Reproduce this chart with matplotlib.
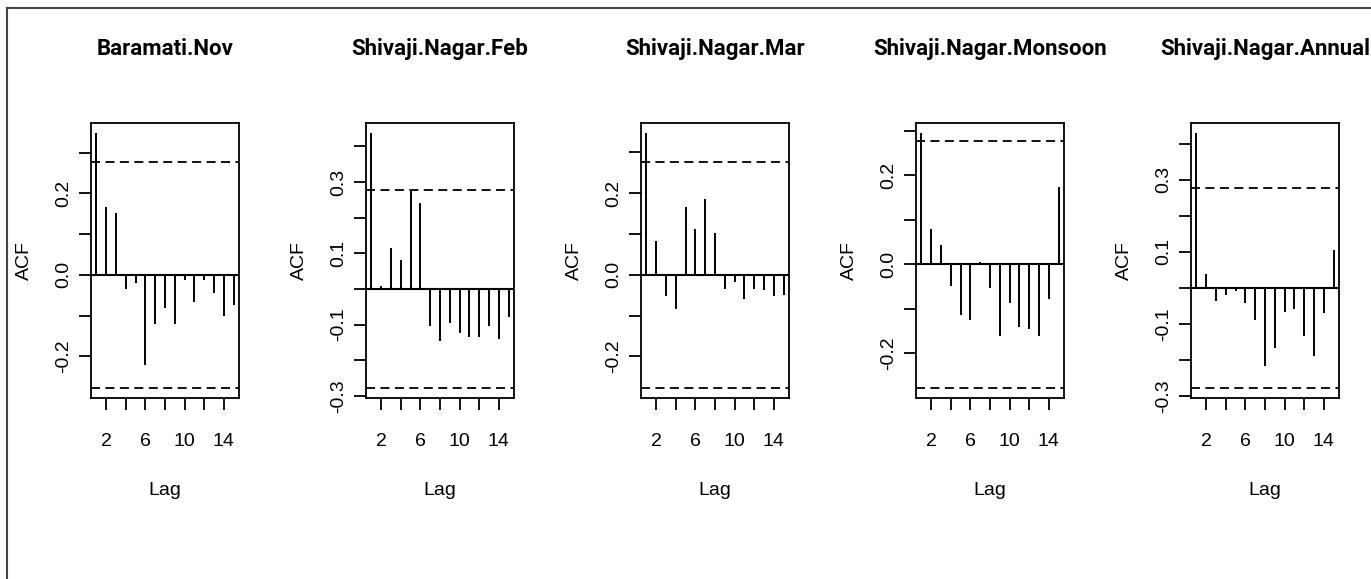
import numpy as np
import matplotlib
matplotlib.use('Agg')
import matplotlib.pyplot as plt
from matplotlib.lines import Line2D

plt.rcParams['font.family'] = ['Liberation Sans', 'DejaVu Sans']

titles = ['Baramati.Nov', 'Shivaji.Nagar.Feb', 'Shivaji.Nagar.Mar',
          'Shivaji.Nagar.Monsoon', 'Shivaji.Nagar.Annual']
lags = np.arange(1, 16)

baramati_nov = [0.348, 0.166, 0.152, -0.034, -0.019, -0.221, -0.120, -0.080,
                -0.120, -0.012, -0.066, -0.012, -0.045, -0.100, -0.074]
sn_feb = [0.437, 0.007, 0.116, 0.082, 0.274, 0.242, -0.104, -0.146,
          -0.095, -0.124, -0.135, -0.135, -0.104, -0.140, -0.079]
sn_mar = [0.347, 0.082, -0.053, -0.084, 0.166, 0.112, 0.186, 0.102,
          -0.034, -0.019, -0.059, -0.034, -0.038, -0.053, -0.049]
sn_monsoon = [0.295, 0.080, 0.043, -0.049, -0.113, -0.125, 0.006, -0.054,
              -0.160, -0.086, -0.140, -0.146, -0.160, -0.077, 0.175]
sn_annual = [0.429, 0.039, -0.037, -0.020, -0.009, -0.041, -0.090, -0.217,
             -0.166, -0.066, -0.058, -0.134, -0.189, -0.071, 0.104]
series = [baramati_nov, sn_feb, sn_mar, sn_monsoon, sn_annual]

clim = 1.96 / np.sqrt(50)

yticks = [
    [-0.2, -0.1, 0.0, 0.1, 0.2, 0.3],
    [-0.3, -0.2, -0.1, 0.0, 0.1, 0.2, 0.3, 0.4],
    [-0.2, -0.1, 0.0, 0.1, 0.2, 0.3],
    [-0.2, -0.1, 0.0, 0.1, 0.2, 0.3],
    [-0.3, -0.2, -0.1, 0.0, 0.1, 0.2, 0.3, 0.4],
]
ylabels = [
    ['-0.2', '', '0.0', '', '0.2', ''],
    ['-0.3', '', '-0.1', '', '0.1', '', '0.3', ''],
    ['-0.2', '', '0.0', '', '0.2', ''],
    ['-0.2', '', '0.0', '', '0.2', ''],
    ['-0.3', '', '-0.1', '', '0.1', '', '0.3', ''],
]
xticks = [2, 4, 6, 8, 10, 12, 14]
xlabels = ['2', '', '6', '', '10', '', '14']

W, H = 1371, 579
fig = plt.figure(figsize=(W / 100, H / 100), dpi=100)

for i in range(5):
    left = 91 + 275 * i
    ax = fig.add_axes([left / W, 1 - 398 / H, 148 / W, 275 / H])
    vals = np.array(series[i])
    ax.vlines(lags, 0, vals, color='black', linewidth=1.4)
    ax.axhline(0, color='black', linewidth=1.5)
    for c in (clim, -clim):
        ax.axhline(c, color='black', linewidth=1.3, linestyle=(0, (5, 3)))
    lo = min(-clim, vals.min())
    hi = max(clim, vals.max())
    ext = 0.04 * (hi - lo)
    ax.set_ylim(lo - ext, hi + ext)
    ax.set_xlim(1 - 0.04 * 14, 15 + 0.04 * 14)
    ax.set_xticks(xticks)
    ax.set_xticklabels(xlabels, fontsize=14)
    ax.set_yticks(yticks[i])
    ax.set_yticklabels(ylabels[i], fontsize=14, rotation=90, va='center')
    ax.tick_params(direction='out', length=8.5, width=1.3, color='black')
    ax.tick_params(axis='x', pad=17)
    ax.tick_params(axis='y', pad=5)
    for s in ax.spines.values():
        s.set_linewidth(1.3)
    ax.set_title(titles[i], fontsize=16, fontweight='bold', pad=49,
                 family=['Roboto', 'DejaVu Sans'])
    ax.set_xlabel('Lag', fontsize=14)
    ax.set_ylabel('ACF', fontsize=14)
    ax.xaxis.set_label_coords(0.5, -84 / 275)
    ax.yaxis.set_label_coords(-58 / 148, 0.5)

# frame lines of the original figure (top and left only)
fig.add_artist(Line2D([7 / W, 1], [1 - 8 / H, 1 - 8 / H], transform=fig.transFigure,
                      color='#444444', linewidth=1.5))
fig.add_artist(Line2D([7 / W, 7 / W], [0, 1 - 8 / H], transform=fig.transFigure,
                      color='#444444', linewidth=1.5))

fig.savefig('out.png', dpi=100, facecolor='white')
